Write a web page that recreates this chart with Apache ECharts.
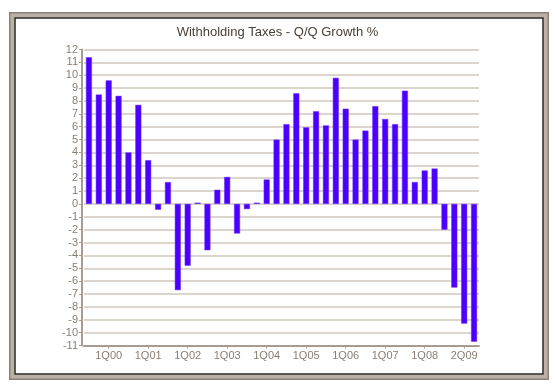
<!DOCTYPE html>
<html><head><meta charset="utf-8">
<script src="https://cdn.jsdelivr.net/npm/echarts@6/dist/echarts.min.js"></script>
<style>html,body{margin:0;padding:0;background:#fff}#c{width:555px;height:388px}</style>
</head><body><div id="c"></div>
<script>
const categories = ['3Q99','4Q99','1Q00','2Q00','3Q00','4Q00','1Q01','2Q01','3Q01','4Q01',
  '1Q02','2Q02','3Q02','4Q02','1Q03','2Q03','3Q03','4Q03','1Q04','2Q04',
  '3Q04','4Q04','1Q05','2Q05','3Q05','4Q05','1Q06','2Q06','3Q06','4Q06',
  '1Q07','2Q07','3Q07','4Q07','1Q08','2Q08','3Q08','4Q08','1Q09','2Q09'];
const growth = [11.4, 8.5, 9.6, 8.4, 4.0, 7.7, 3.4, -0.45, 1.7, -6.7,
  -4.8, 0.1, -3.6, 1.1, 2.1, -2.3, -0.4, 0.1, 1.9, 5.0,
  6.2, 8.6, 5.95, 7.2, 6.1, 9.8, 7.4, 5.0, 5.7, 7.6,
  6.6, 6.2, 8.8, 1.7, 2.6, 2.75, -2.0, -6.5, -9.3, -10.7];
const tickLabels = ['1Q00','1Q01','1Q02','1Q03','1Q04','1Q05','1Q06','1Q07','1Q08','2Q09'];

const showIdx = i => i >= 2 && (i - 2) % 4 === 0;
const chart = echarts.init(document.getElementById('c'), null, {renderer: 'canvas'});
chart.setOption({
  animation: false,
  backgroundColor: '#fff',
  title: {
    text: 'Withholding Taxes - Q/Q Growth %',
    left: 'center', top: 21,
    textStyle: {fontFamily: 'Liberation Sans', fontSize: 13, fontWeight: 'normal', color: '#4a4038'}
  },
  grid: {left: 84, right: 76, top: 49.5, bottom: 42.5, containLabel: false},
  xAxis: {
    type: 'category', data: categories, position: 'bottom',
    axisLine: {onZero: false, lineStyle: {color: '#a89c90', width: 2}},
    axisTick: {show: true, interval: (i) => showIdx(i), alignWithLabel: true, length: 3, lineStyle: {color: '#a89c90'}},
    axisLabel: {
      interval: (i) => showIdx(i),
      formatter: (v, i) => tickLabels[(i - 2) / 4] || '',
      color: '#8a7e74', fontFamily: 'Liberation Sans', fontSize: 11, margin: 5
    },
    splitLine: {show: false}
  },
  yAxis: {
    type: 'value', min: -11, max: 12, interval: 1, offset: 2,
    axisLine: {show: true, lineStyle: {color: '#a89c90', width: 2}},
    axisTick: {show: true, length: 3, lineStyle: {color: '#a89c90'}},
    axisLabel: {color: '#8a7e74', fontFamily: 'Liberation Sans', fontSize: 11, margin: 4},
    splitLine: {show: true, lineStyle: {color: '#dcd5ce', width: 2}}
  },
  series: [{
    type: 'bar', data: growth, barWidth: 6,
    itemStyle: {color: '#4b00ff', borderColor: '#6a33ff', borderWidth: 0.5}
  }],
  graphic: [
    {type: 'rect', z: 100, silent: true, shape: {x: 10, y: 13, width: 538, height: 366},
      style: {fill: 'none', stroke: '#8c8278', lineWidth: 2}},
    {type: 'rect', z: 100, silent: true, shape: {x: 12.5, y: 15.5, width: 533, height: 361},
      style: {fill: 'none', stroke: '#bcb0a4', lineWidth: 4}},
    {type: 'rect', z: 100, silent: true, shape: {x: 15, y: 18, width: 528, height: 356},
      style: {fill: 'none', stroke: '#2a2420', lineWidth: 1.5}}
  ]
});
</script></body></html>
